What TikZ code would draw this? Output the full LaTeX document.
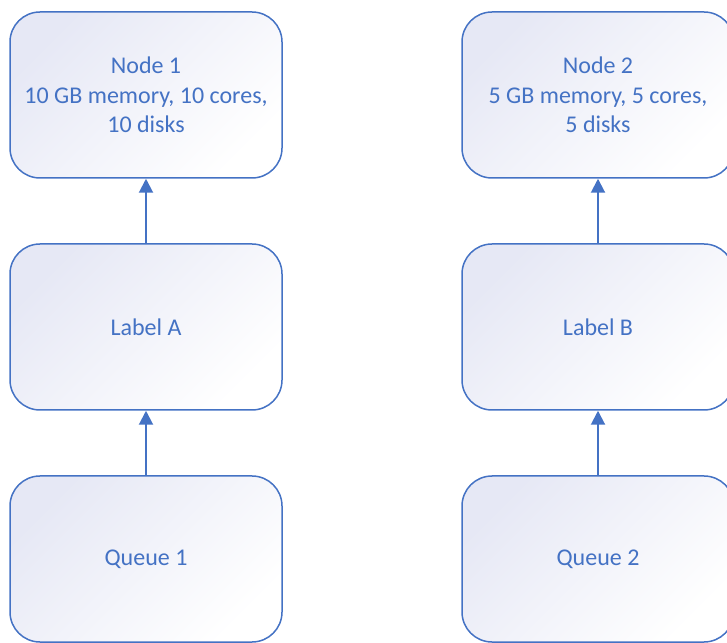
\documentclass[tikz,border=0pt]{standalone}
\usepackage{fontspec}
\setmainfont{Carlito}
\usepackage{tikz}
\usepackage{xcolor}
\usetikzlibrary{arrows.meta}
\definecolor{boxblue}{RGB}{68,114,196}
\definecolor{boxshade}{RGB}{230,232,245}
\tikzset{
  box/.style={draw=boxblue, line width=1.5pt, rounded corners=30pt,
    minimum width=272pt, minimum height=166pt, align=center,
    text=boxblue, font=\fontsize{24}{29.5}\selectfont,
    shading=axis, top color=boxshade, bottom color=white, shading angle=45},
  link/.style={-{Triangle[width=14pt,length=14pt]}, draw=boxblue, line width=2pt}
}

\begin{document}
\begin{tikzpicture}[x=1pt, y=1pt]
  \useasboundingbox (0,0) rectangle (727,642);
  % left column
  \node[box] (node1) at (146,547) {Node 1\\10 GB memory, 10 cores,\\10 disks};
  \node[box] (labelA) at (146,315) {Label A};
  \node[box] (queue1) at (146,83) {Queue 1};
  % right column
  \node[box] (node2) at (598,547) {Node 2\\5 GB memory, 5 cores,\\5 disks};
  \node[box] (labelB) at (598,315) {Label B};
  \node[box] (queue2) at (598,83) {Queue 2};
  % connectors
  \draw[link] (queue1) -- (labelA);
  \draw[link] (labelA) -- (node1);
  \draw[link] (queue2) -- (labelB);
  \draw[link] (labelB) -- (node2);
\end{tikzpicture}
\end{document}
